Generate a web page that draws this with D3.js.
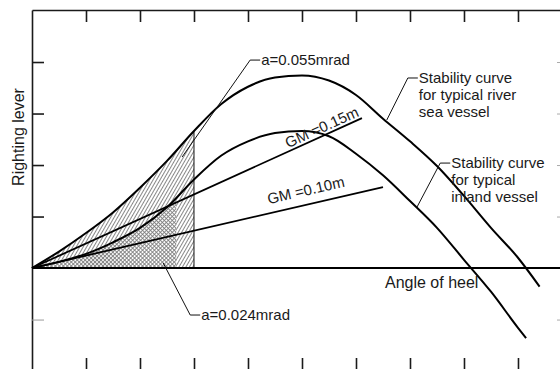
<!DOCTYPE html>
<head>
  <meta charset="utf-8">
  <script src="https://d3js.org/d3.v7.min.js"></script>
  <style>
    body { margin: 0; background: #fff; }
    svg { font-family: "Liberation Sans", Arial, sans-serif; }
    .frame path, .frame line { stroke: #1a1a1a; stroke-width: 1.6px; }
    .curve { fill: none; stroke: #000; stroke-width: 2px; }
    .gm { fill: none; stroke: #000; stroke-width: 1.8px; }
    .leader { fill: none; stroke: #111; stroke-width: 1px; }
    .note { font-size: 15px; fill: #1a1a1a; }
    .label { font-size: 16px; fill: #1a1a1a; }
  </style>
</head>
<body>
<script>

// angle of heel (deg) and righting lever (m)
var riverAngle = [0, 5, 10, 15, 20, 25, 30, 35, 40, 45, 50, 55, 60, 65, 70, 75, 80, 85, 90, 94];
var riverLever = [0, .016, .034, .054, .078, .104, .133, .159, .176, .185, .187, .182, .168, .145, .123, .099, .070, .039, .010, -.018];

var inlandAngle = [0, 5, 10, 15, 20, 25, 30, 35, 40, 45, 50, 55, 60, 65, 70, 75, 80, 85, 90, 91.5];
var inlandLever = [0, .006, .0138, .025, .039, .059, .086, .109, .123, .131, .133, .128, .111, .090, .065, .039, .008, -.023, -.058, -.068];

// GM tangent lines: [angle, lever] end points
var gmLabels = ["GM =0.15m", "GM =0.10m"];
var gmEnd = [[61.1, .1456], [65, .0786]];

// shaded areas end at these angles
var riverShadeTo = 30;
var inlandShadeTo = 26.7;

var xTicks = [10, 20, 30, 40, 50, 60, 70, 80, 90];
var yTicks = [-0.05, 0.05, 0.1, 0.15, 0.2];

// callouts: text lines, anchor point, elbow point (data units)
var noteText = [["a=0.055mrad"], ["a=0.024mrad"],
                ["Stability curve", "for typical river", "sea vessel"],
                ["Stability curve", "for typical", "inland vessel"]];
var noteAnchor = [[27.8, .1078], [24.3, .0049], [65.7, .1437], [71.3, .0592]];
var noteElbow = [[40.4, .2019], [29.3, -.0456], [69.6, .1845], [75.6, .1019]];

var width = 560, height = 369;

var x = d3.scaleLinear().domain([0, 97.78]).range([32, 560]);
var y = d3.scaleLinear().domain([-0.098, 0.2505]).range([369, 10]);

var svg = d3.select("body").append("svg")
    .attr("width", width)
    .attr("height", height);

var defs = svg.append("defs");

var hatch = defs.append("pattern")
    .attr("id", "hatch")
    .attr("patternUnits", "userSpaceOnUse")
    .attr("width", 3).attr("height", 10)
    .attr("patternTransform", "rotate(30)");
hatch.append("line")
    .attr("x1", 0.5).attr("y1", 0).attr("x2", 0.5).attr("y2", 10)
    .attr("stroke", "#7a7a7a").attr("stroke-width", 0.9);

var cross = defs.append("pattern")
    .attr("id", "cross")
    .attr("patternUnits", "userSpaceOnUse")
    .attr("width", 2.8).attr("height", 2.8)
    .attr("patternTransform", "rotate(45)");
cross.append("rect").attr("width", 2.8).attr("height", 2.8).attr("fill", "#fff");
cross.append("path")
    .attr("d", "M0,0.5H2.8M0.5,0V2.8")
    .attr("stroke", "#7e7e7e").attr("stroke-width", 0.9);

defs.append("clipPath").attr("id", "clipRiver")
  .append("rect")
    .attr("x", x(0)).attr("y", 0)
    .attr("width", x(riverShadeTo) - x(0)).attr("height", y(0));
defs.append("clipPath").attr("id", "clipInland")
  .append("rect")
    .attr("x", x(0)).attr("y", 0)
    .attr("width", x(inlandShadeTo) - x(0)).attr("height", y(0));

var river = riverAngle.map(function(a, i) { return [a, riverLever[i]]; });
var inland = inlandAngle.map(function(a, i) { return [a, inlandLever[i]]; });

var area = d3.area()
    .x(function(d) { return x(d[0]); })
    .y0(y(0))
    .y1(function(d) { return y(d[1]); })
    .curve(d3.curveMonotoneX);

var line = d3.line()
    .x(function(d) { return x(d[0]); })
    .y(function(d) { return y(d[1]); })
    .curve(d3.curveMonotoneX);

svg.append("path")
    .attr("d", area(river))
    .attr("fill", "url(#hatch)")
    .attr("clip-path", "url(#clipRiver)");
svg.append("path")
    .attr("d", area(inland))
    .attr("fill", "url(#cross)")
    .attr("clip-path", "url(#clipInland)");

// vertical edge of the hatched area
svg.append("line")
    .attr("class", "leader")
    .attr("x1", x(riverShadeTo)).attr("x2", x(riverShadeTo))
    .attr("y1", y(0)).attr("y2", y(riverLever[riverAngle.indexOf(riverShadeTo)]));

// frame
svg.append("g")
    .attr("class", "frame")
    .attr("transform", "translate(0,10)")
    .call(d3.axisTop(x).tickValues(xTicks).tickSize(-12).tickSizeOuter(0).tickFormat(""));
svg.append("g")
    .attr("class", "frame")
    .attr("transform", "translate(0,369)")
    .call(d3.axisBottom(x).tickValues(xTicks).tickSize(-11).tickSizeOuter(0).tickFormat(""))
    .select(".domain").remove();
var left = svg.append("g")
    .attr("class", "frame")
    .attr("transform", "translate(32,0)")
    .call(d3.axisLeft(y).tickValues(yTicks).tickSize(-12).tickSizeOuter(0).tickFormat(""));
left.selectAll(".tick line").filter(function(d) { return d < 0; })
    .style("stroke", "#999").style("stroke-width", "1px");
var right = svg.append("g")
    .attr("transform", "translate(560,0)")
    .call(d3.axisRight(y).tickValues(yTicks).tickSize(-3).tickFormat(""));
right.select(".domain").remove();
right.selectAll(".tick line").style("stroke", "#aaa");

// zero line
svg.append("line")
    .attr("x1", x(0)).attr("x2", 560)
    .attr("y1", y(0)).attr("y2", y(0))
    .attr("stroke", "#000").attr("stroke-width", 2);

// GM lines
gmEnd.forEach(function(e, i) {
  svg.append("line")
      .attr("class", "gm")
      .attr("x1", x(0)).attr("y1", y(0))
      .attr("x2", x(e[0])).attr("y2", y(e[1]));
});

svg.append("path").attr("class", "curve").attr("d", line(river));
svg.append("path").attr("class", "curve").attr("d", line(inland));

// GM labels along their lines
var gmAt = [0.78, 0.68], gmOff = [3, 9];
gmEnd.forEach(function(e, i) {
  var x0 = x(0), y0 = y(0), x1 = x(e[0]), y1 = y(e[1]);
  var ang = Math.atan2(y1 - y0, x1 - x0) * 180 / Math.PI;
  var px = x0 + (x1 - x0) * gmAt[i], py = y0 + (y1 - y0) * gmAt[i];
  svg.append("text")
      .attr("class", "note")
      .attr("transform", "translate(" + px + "," + py + ") rotate(" + ang + ")")
      .attr("y", -gmOff[i])
      .text(gmLabels[i]);
});

// callouts
noteText.forEach(function(lines, i) {
  var ax = x(noteAnchor[i][0]), ay = y(noteAnchor[i][1]);
  var ex = x(noteElbow[i][0]), ey = y(noteElbow[i][1]);
  svg.append("path")
      .attr("class", "leader")
      .attr("d", "M" + ax + "," + ay + "L" + ex + "," + ey + "H" + (ex + 10));
  svg.append("text")
      .attr("class", "note")
      .attr("x", ex + 11)
      .attr("y", ey)
      .selectAll("tspan")
      .data(lines)
    .enter().append("tspan")
      .attr("x", ex + 11)
      .attr("dy", function(d, j) { return j === 0 ? "0.35em" : "17px"; })
      .text(function(d) { return d; });
});

svg.append("text")
    .attr("class", "label")
    .attr("transform", "translate(24,137) rotate(-90)")
    .style("text-anchor", "middle")
    .text("Righting lever");

svg.append("text")
    .attr("class", "label")
    .attr("x", 385)
    .attr("y", 288)
    .text("Angle of heel");

</script>
</body>
